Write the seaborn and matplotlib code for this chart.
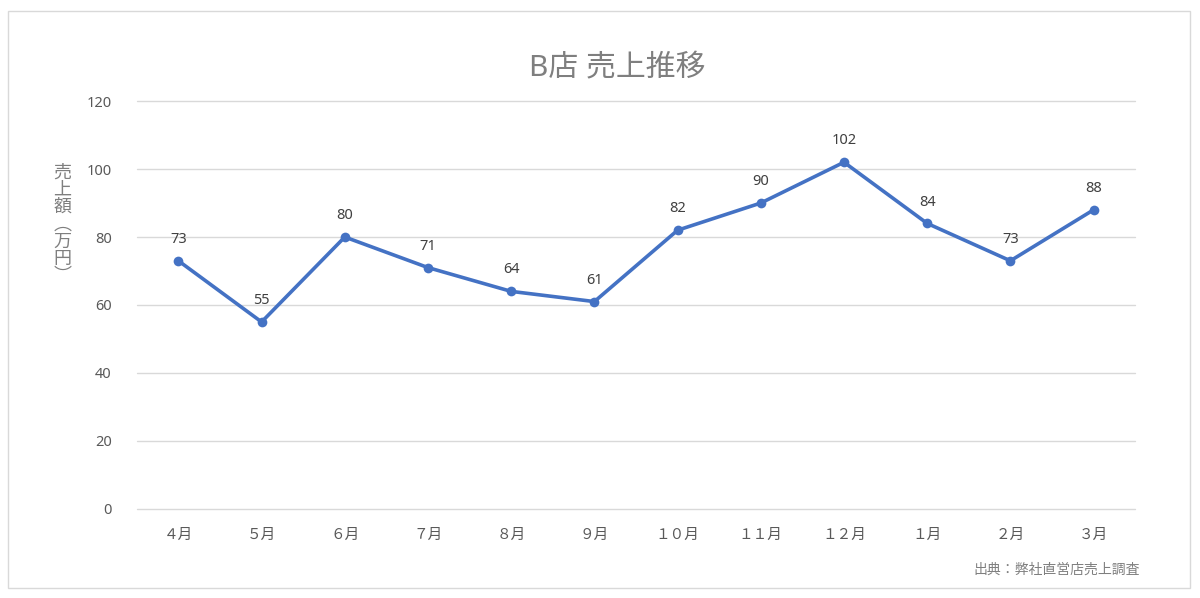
import matplotlib
matplotlib.use('Agg')
import matplotlib.pyplot as plt
import seaborn as sns
import pandas as pd
from matplotlib.patches import Rectangle

# monthly sales of store B (万円)
months = ['４月', '５月', '６月', '７月', '８月', '９月', '１０月', '１１月', '１２月', '１月', '２月', '３月']
sales = [73, 55, 80, 71, 64, 61, 82, 90, 102, 84, 73, 88]
y_ticks = [0, 20, 40, 60, 80, 100, 120]

df = pd.DataFrame({'month': months, 'sales': sales})

sns.set_theme(style='white')
plt.rcParams['font.family'] = ['Noto Sans', 'Noto Sans CJK JP', 'DejaVu Sans']

fig = plt.figure(figsize=(12, 5.98), dpi=100)
ax = fig.add_axes([0.114, 0.149, 0.832, 0.682])

sns.lineplot(data=df, x='month', y='sales', ax=ax, sort=False,
             color='#4472C4', linewidth=2.6, marker='o', markersize=7,
             markeredgewidth=0)

for i, v in enumerate(df['sales']):
    ax.annotate(str(v), (i, v), xytext=(0, 10), textcoords='offset points',
                ha='center', va='bottom', fontsize=10.5, color='#404040')

ax.set_xlim(-0.5, len(months) - 0.5)
ax.set_ylim(0, 120)
ax.set_yticks(y_ticks)
ax.yaxis.grid(True, color='#d9d9d9', linewidth=1)
for gl in ax.get_ygridlines():
    gl.set_clip_on(False)
ax.xaxis.grid(False)
for s in ax.spines.values():
    s.set_visible(False)
ax.tick_params(axis='both', length=0, labelsize=10.5, labelcolor='#595959')
ax.tick_params(axis='x', pad=14)
ax.tick_params(axis='y', pad=18)
ax.set_xlabel('')
ax.set_ylabel('')

# vertical axis label
ylab = '\n'.join('売上額︵万円︶')
fig.text(0.052, 0.625, ylab, ha='center', va='center', fontsize=13,
         color='#7f7f7f', linespacing=0.95)

fig.text(0.514, 0.884, 'B店 売上推移', ha='center', va='center',
         fontsize=21.5, color='#7f7f7f')
fig.text(0.95, 0.047, '出典：弊社直営店売上調査', ha='right', va='center',
         fontsize=10, color='#7f7f7f')

fig.patches.append(Rectangle((0.007, 0.017), 0.985, 0.965, transform=fig.transFigure,
                             fill=False, edgecolor='#d9d9d9', linewidth=1))

fig.savefig('out.png', dpi=100)
